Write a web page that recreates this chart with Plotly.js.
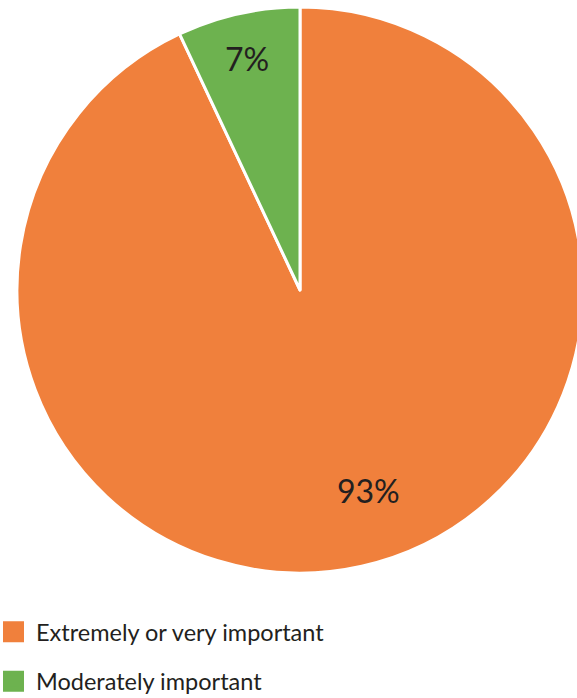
<!DOCTYPE html>
<html>
<head>
<meta charset="utf-8">
<script src="https://cdn.plot.ly/plotly-3.0.1.min.js"></script>
<style>
html,body{margin:0;padding:0;overflow:hidden;background:#fff;}
#chart{width:609px;height:760px;margin-left:-9px;}
</style>
</head>
<body>
<div id="chart"></div>
<script>
const categories = ["Extremely or very important", "Moderately important"];
const values = [93, 7];
const colors = ["#f0803c", "#6db24f"];
// label anchor points on the page (pixels), one per category
const labelPosX = [368, 247];
const labelPosY = [490, 59];

const textColor = "#231f20";
const font = "Lato, 'Open Sans', sans-serif";
const W = 609, H = 760, OFF = 9;
const cx = 300 + OFF, cy = 290, R = 283;

const traces = [{
  type: "pie",
  labels: categories,
  values: values,
  sort: false,
  direction: "clockwise",
  rotation: 0,
  marker: {colors: colors, line: {color: "#ffffff", width: 3}},
  textinfo: "none",
  hoverinfo: "none",
  showlegend: false,
  domain: {x: [(cx - R) / W, (cx + R) / W], y: [(H - cy - R) / H, (H - cy + R) / H]}
}];

categories.forEach(function(name, i){
  traces.push({
    type: "scatter", mode: "markers", x: [null], y: [null],
    name: name, legendgroup: "g" + i, showlegend: true,
    marker: {symbol: "square", size: 16, color: colors[i], line: {color: colors[i], width: 5}},
    hoverinfo: "none"
  });
});

const annotations = categories.map(function(name, i){
  return {
    text: values[i] + "%", showarrow: false,
    xref: "paper", yref: "paper",
    x: (labelPosX[i] + OFF) / W, y: 1 - labelPosY[i] / H,
    xanchor: "center", yanchor: "middle",
    font: {family: font, size: 32, color: textColor}
  };
});

const layout = {
  width: W, height: H,
  margin: {l: 0, r: 0, t: 0, b: 0},
  paper_bgcolor: "#ffffff", plot_bgcolor: "rgba(0,0,0,0)",
  showlegend: true,
  xaxis: {visible: false, domain: [0, 0.01]},
  yaxis: {visible: false, domain: [0, 0.01]},
  annotations: annotations,
  legend: {
    x: 0, xanchor: "left", y: 1 - 610 / H, yanchor: "top",
    orientation: "v", itemwidth: 35, tracegroupgap: 16,
    font: {family: font, size: 23.5, color: textColor},
    bgcolor: "rgba(0,0,0,0)", borderwidth: 0
  }
};

Plotly.newPlot("chart", traces, layout, {displayModeBar: false, staticPlot: true});
</script>
</body>
</html>
